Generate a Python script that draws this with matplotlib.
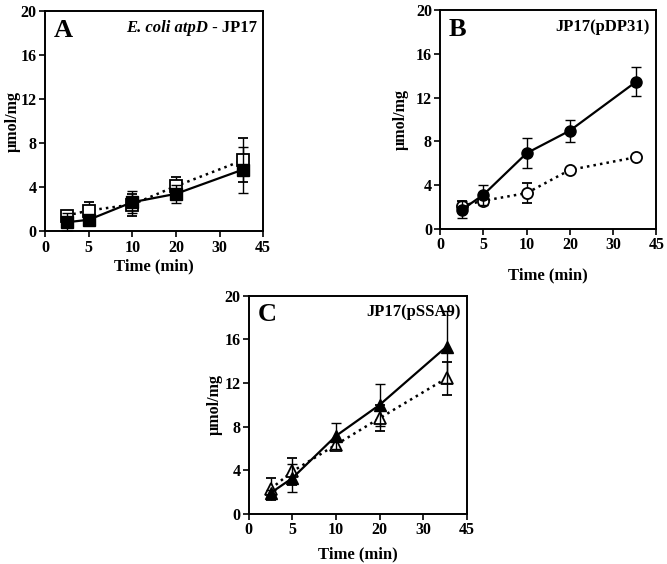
import numpy as np
import matplotlib
matplotlib.use("Agg")
import matplotlib.pyplot as plt

plt.rcParams['font.family'] = ['Liberation Serif', 'DejaVu Serif']
plt.rcParams['font.weight'] = 'bold'

# x axis is not linear: ticks are evenly spaced
tick_vals = [0, 5, 10, 20, 30, 45]
tick_labels = ['0', '5', '10', '20', '30', '45']
times = [2.5, 5, 10, 20, 38]

# panel A - E. coli atpD - JP17 (squares)
a_filled = [0.82, 1.04, 2.64, 3.40, 5.60]
a_filled_err = [0.8, 0.2, 1.0, 0.8, 2.1]
a_open = [1.43, 1.88, 2.43, 4.10, 6.44]
a_open_err = [0.3, 0.8, 1.0, 0.8, 2.0]

# panel B - JP17(pDP31) (circles)
b_filled = [1.76, 3.13, 6.93, 8.99, 13.46]
b_filled_err = [0.8, 0.9, 1.4, 1.0, 1.3]
b_open = [2.12, 2.58, 3.28, 5.40, 6.56]
b_open_err = [0.4, 0.2, 0.9, 0.2, 0.2]

# panel C - JP17(pSSA9) (triangles)
c_filled = [1.92, 3.29, 7.16, 10.0, 15.33]
c_filled_err = [0.3, 1.3, 1.2, 1.9, 3.3]
c_open = [2.29, 3.90, 6.35, 8.78, 12.44]
c_open_err = [1.0, 1.2, 0.3, 1.2, 1.5]


def pos(t):
    return np.interp(t, tick_vals, np.arange(len(tick_vals)))


def panel(ax, letter, filled, ferr, opn, oerr, marker, ylab_x):
    x = pos(times)
    ax.errorbar(x, opn, yerr=oerr, fmt=marker, ls=':', color='black',
                mfc='white', mec='black', mew=1.3, ms=8, lw=1.8, capsize=3.5,
                elinewidth=1.0, capthick=1.0, zorder=2)
    ax.errorbar(x, filled, yerr=ferr, fmt=marker, ls='-', color='black',
                mfc='black', mec='black', ms=8, lw=1.6, capsize=3.5,
                elinewidth=1.0, capthick=1.0, zorder=3)
    ax.set_xlim(0, 5)
    ax.set_ylim(0, 20)
    ax.set_xticks(range(len(tick_vals)))
    ax.set_xticklabels(tick_labels)
    ax.set_yticks([0, 4, 8, 12, 16, 20])
    ax.tick_params(direction='out', length=4, width=1.2, labelsize=11.5, pad=2)
    for s in ax.spines.values():
        s.set_linewidth(1.4)
    ax.set_ylabel('µmol/mg', fontsize=11.5, fontweight='bold', va='center')
    ax.yaxis.set_label_coords(ylab_x, 0.5)
    ax.text(0.04, 0.965, letter, transform=ax.transAxes, fontsize=19,
            fontweight='bold', va='top', ha='left')


fig = plt.figure(figsize=(6.67, 5.64), dpi=100)
axA = fig.add_axes([0.0675, 0.590, 0.327, 0.390])
axB = fig.add_axes([0.660, 0.594, 0.324, 0.388])
axC = fig.add_axes([0.373, 0.0887, 0.327, 0.387])

panel(axA, 'A', a_filled, a_filled_err, a_open, a_open_err, 's', -0.15)
panel(axB, 'B', b_filled, b_filled_err, b_open, b_open_err, 'o', -0.185)
panel(axC, 'C', c_filled, c_filled_err, c_open, c_open_err, '^', -0.155)

axA.set_xlabel('Time (min)', fontsize=12, fontweight='bold', labelpad=2)
axB.set_xlabel('Time (min)', fontsize=12, fontweight='bold', labelpad=10)
axC.set_xlabel('Time (min)', fontsize=12, fontweight='bold', labelpad=6)

t = axA.text(0.97, 0.96, ' - JP17', transform=axA.transAxes, fontsize=12,
             fontweight='bold', ha='right', va='top')
axA.annotate('E. coli atpD', xy=(0, 0), xycoords=t, ha='right', va='bottom',
             fontsize=12, fontweight='bold', style='italic')
axB.text(0.97, 0.96, 'JP17(pDP31)', transform=axB.transAxes, fontsize=12,
         fontweight='bold', ha='right', va='top')
axC.text(0.97, 0.96, 'JP17(pSSA9)', transform=axC.transAxes, fontsize=12,
         fontweight='bold', ha='right', va='top')

fig.savefig('out.png', dpi=100)
